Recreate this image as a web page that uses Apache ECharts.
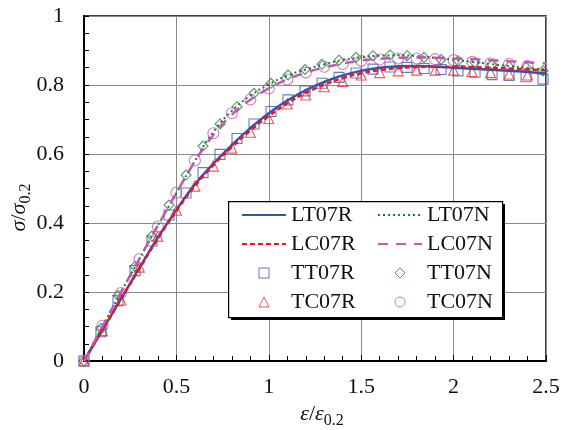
<!DOCTYPE html>
<html>
<head>
<meta charset="utf-8">
<script src="https://cdn.jsdelivr.net/npm/echarts@6/dist/echarts.min.js"></script>
<style>html,body{margin:0;padding:0;background:#fff;}#c{width:563px;height:430px;}</style>
</head>
<body>
<div id="c"></div>
<script>
// strain ratio for fitted lines
var strainLine = [0, 0.1, 0.2, 0.3, 0.4, 0.5, 0.6, 0.7, 0.8, 0.9, 1.0, 1.1, 1.2, 1.3, 1.4, 1.5, 1.6, 1.7, 1.8, 1.9, 2.0, 2.1, 2.2, 2.3, 2.4, 2.5];
var LT07R = [0, 0.09, 0.18, 0.27, 0.358, 0.438, 0.512, 0.572, 0.626, 0.675, 0.718, 0.755, 0.785, 0.809, 0.828, 0.841, 0.85, 0.854, 0.855, 0.853, 0.85, 0.847, 0.844, 0.841, 0.838, 0.834];
var LC07R = [0, 0.09, 0.179, 0.268, 0.355, 0.435, 0.507, 0.568, 0.62, 0.668, 0.71, 0.747, 0.777, 0.801, 0.82, 0.834, 0.843, 0.849, 0.852, 0.853, 0.853, 0.852, 0.85, 0.848, 0.845, 0.842];
var LT07N = [0, 0.1, 0.199, 0.296, 0.393, 0.487, 0.58, 0.664, 0.725, 0.769, 0.802, 0.827, 0.845, 0.86, 0.872, 0.88, 0.885, 0.886, 0.884, 0.879, 0.873, 0.867, 0.861, 0.855, 0.85, 0.845];
var LC07N = [0, 0.1, 0.199, 0.297, 0.393, 0.487, 0.578, 0.655, 0.714, 0.757, 0.79, 0.816, 0.836, 0.851, 0.862, 0.871, 0.876, 0.879, 0.88, 0.879, 0.877, 0.875, 0.872, 0.869, 0.866, 0.862];

// test markers
var strainTT = [0, 0.092, 0.184, 0.276, 0.368, 0.46, 0.552, 0.644, 0.736, 0.828, 0.92, 1.012, 1.104, 1.196, 1.288, 1.38, 1.472, 1.564, 1.656, 1.748, 1.84, 1.932, 2.024, 2.116, 2.208, 2.3, 2.392, 2.484];
var TT07R = [0, 0.085, 0.175, 0.262, 0.348, 0.423, 0.487, 0.546, 0.599, 0.645, 0.687, 0.723, 0.757, 0.783, 0.805, 0.822, 0.835, 0.846, 0.852, 0.851, 0.848, 0.845, 0.841, 0.837, 0.83, 0.828, 0.824, 0.817];
var TT07N = [0, 0.094, 0.19, 0.274, 0.362, 0.452, 0.539, 0.623, 0.687, 0.737, 0.776, 0.805, 0.829, 0.845, 0.86, 0.872, 0.88, 0.885, 0.887, 0.885, 0.88, 0.874, 0.87, 0.865, 0.858, 0.853, 0.851, 0.841];
var strainTC = [0, 0.1, 0.2, 0.3, 0.4, 0.5, 0.6, 0.7, 0.8, 0.9, 1.0, 1.1, 1.2, 1.3, 1.4, 1.5, 1.6, 1.7, 1.8, 1.9, 2.0, 2.1, 2.2, 2.3, 2.4];
var TC07R = [0, 0.088, 0.177, 0.272, 0.362, 0.437, 0.507, 0.565, 0.617, 0.663, 0.703, 0.745, 0.771, 0.795, 0.81, 0.829, 0.836, 0.841, 0.843, 0.843, 0.843, 0.839, 0.836, 0.832, 0.829];
var TC07N = [0, 0.102, 0.197, 0.295, 0.39, 0.488, 0.581, 0.66, 0.718, 0.758, 0.79, 0.816, 0.836, 0.853, 0.861, 0.87, 0.874, 0.877, 0.877, 0.875, 0.872, 0.867, 0.863, 0.861, 0.855];

function pairs(xs, ys) { return xs.map(function (x, i) { return [x, ys[i]]; }); }

var FONT = 'Liberation Serif';
var chart = echarts.init(document.getElementById('c'), null, {renderer: 'canvas'});

function lineSeries(name, ys, color, width, dash) {
  return {
    name: name, type: 'line', data: pairs(strainLine, ys), smooth: true, symbol: 'none',
    lineStyle: {color: color, width: width, type: dash || 'solid'}, itemStyle: {color: color}, z: 3
  };
}
function markSeries(name, xs, ys, symbol, size, color) {
  return {
    name: name, type: 'scatter', data: pairs(xs, ys), symbol: symbol, symbolSize: size,
    itemStyle: {color: 'rgba(255,255,255,0)', borderColor: color, borderWidth: 1.1}, z: 2
  };
}

var ICON_SQUARE = 'path://M0,0L10,0L10,10L0,10Z';
var ICON_DIAMOND = 'path://M5,0L10,5L5,10L0,5Z';
var ICON_TRIANGLE = 'path://M5,0L10,10L0,10Z';
var ICON_CIRCLE = 'path://M10,5A5,5,0,1,1,0,5A5,5,0,1,1,10,5Z';

function lineItem(name) { return {name: name, itemStyle: {opacity: 0, borderWidth: 0}}; }
function markItem(name, icon) { return {name: name, icon: icon}; }

var legendCommon = {
  orient: 'vertical', top: 204, padding: 0, itemWidth: 44, itemHeight: 10, itemGap: 7, z: 20,
  selectedMode: false, symbolKeepAspect: true,
  itemStyle: {borderWidth: 1},
  textStyle: {fontFamily: FONT, fontSize: 22, color: '#111', lineHeight: 22}
};

chart.setOption({
  animation: false,
  backgroundColor: '#fff',
  grid: {left: 84, right: 17, top: 16, bottom: 69, containLabel: false, outerBoundsMode: 'none',
    show: true, borderColor: '#000', borderWidth: 1.5, backgroundColor: 'transparent'},
  xAxis: {
    type: 'value', min: 0, max: 2.5, interval: 0.5,
    name: '{i|ε}/{i|ε}{s|0.2}', nameLocation: 'middle', nameGap: 38, nameMoveOverlap: false,
    nameTextStyle: {fontFamily: FONT, fontSize: 22, color: '#111', padding: [0, 0, 0, 14],
      rich: {i: {fontFamily: FONT, fontStyle: 'italic', fontSize: 22, color: '#111'},
             s: {fontFamily: FONT, fontSize: 16, color: '#111', padding: [14, 0, 0, 0]}}},
    axisLine: {show: true, onZero: false, lineStyle: {color: '#000', width: 2}},
    axisTick: {show: true, inside: true, length: 6, lineStyle: {color: '#000', width: 1}},
    minorTick: {show: true, splitNumber: 5, length: 5, lineStyle: {color: '#000', width: 1}},
    splitLine: {show: true, lineStyle: {color: '#8a8a8a', width: 1}},
    axisLabel: {fontFamily: FONT, fontSize: 22, color: '#111', margin: 15}
  },
  yAxis: {
    type: 'value', min: 0, max: 1, interval: 0.2,
    name: '{i|σ}/{i|σ}{s|0.2}', nameLocation: 'middle', nameGap: 50, nameRotate: 90, nameMoveOverlap: false,
    nameTextStyle: {fontFamily: FONT, fontSize: 22, color: '#111', padding: [0, 38, 0, 0],
      rich: {i: {fontFamily: FONT, fontStyle: 'italic', fontSize: 22, color: '#111'},
             s: {fontFamily: FONT, fontSize: 16, color: '#111', padding: [14, 0, 0, 0]}}},
    axisLine: {show: true, onZero: false, lineStyle: {color: '#000', width: 2}},
    axisTick: {show: true, inside: true, length: 5, lineStyle: {color: '#000', width: 1}},
    minorTick: {show: true, splitNumber: 4, length: 5, lineStyle: {color: '#000', width: 1}},
    splitLine: {show: true, lineStyle: {color: '#8a8a8a', width: 1}},
    axisLabel: {fontFamily: FONT, fontSize: 22, color: '#111', margin: 20}
  },
  legend: [
    Object.assign({left: 241, data: [lineItem('LT07R'), lineItem('LC07R'), markItem('TT07R', ICON_SQUARE), markItem('TC07R', ICON_TRIANGLE)]}, legendCommon),
    Object.assign({left: 377, data: [lineItem('LT07N'), lineItem('LC07N'), markItem('TT07N', ICON_DIAMOND), markItem('TC07N', ICON_CIRCLE)]}, legendCommon)
  ],
  graphic: [
    {type: 'rect', left: 231, top: 204, z: 10, shape: {width: 274, height: 116}, style: {fill: '#000'}},
    {type: 'rect', left: 228, top: 201, z: 11, shape: {width: 274, height: 116}, style: {fill: '#fff', stroke: '#000', lineWidth: 1.2}}
  ],
  series: [
    markSeries('TT07R', strainTT, TT07R, 'rect', 10, '#3f5ab0'),
    markSeries('TT07N', strainTT, TT07N, 'diamond', 10, '#267a38'),
    markSeries('TC07R', strainTC, TC07R, 'triangle', 10, '#ec2a2f'),
    markSeries('TC07N', strainTC, TC07N, 'circle', 11, '#c05cb0'),
    lineSeries('LT07R', LT07R, '#3752a8', 2.5, 'solid'),
    lineSeries('LC07R', LC07R, '#f0141c', 2.5, [5, 3]),
    lineSeries('LT07N', LT07N, '#1b7a3a', 2, [2, 3]),
    lineSeries('LC07N', LC07N, '#c257b4', 2.5, [10, 8])
  ]
});
</script>
</body>
</html>
